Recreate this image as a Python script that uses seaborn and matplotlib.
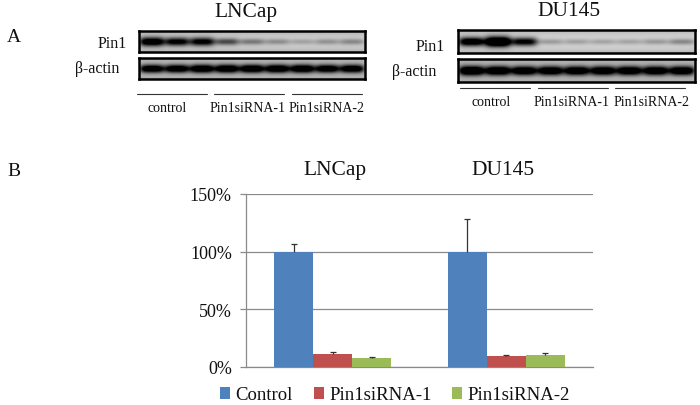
import numpy as np
import pandas as pd
import matplotlib
matplotlib.use("Agg")
import matplotlib.pyplot as plt
import seaborn as sns

# bar chart values
cells = ["LNCap", "DU145"]
groups = ["Control", "Pin1siRNA-1", "Pin1siRNA-2"]
control = [100, 100]
sirna1 = [11, 9.5]
sirna2 = [7.5, 10]
control_err = [6.5, 28]
sirna1_err = [2, 1]
sirna2_err = [1, 2]
colors = ["#4F81BD", "#C0504D", "#9BBB59"]
y_ticks = [0, 50, 100, 150]

# band darkness per lane on the blots
lncap_pin1 = [1.0, 0.85, 0.85, 0.5, 0.32, 0.24, 0.16, 0.22, 0.26]
lncap_actin = [0.95, 0.95, 1, 1, 1, 1, 1, 0.95, 0.95]
du_pin1 = [1, 1.3, 0.85, 0.2, 0.18, 0.17, 0.17, 0.21, 0.28]
du_actin = [1.1, 1.05, 1, 1, 1, 1, 1, 1, 1]

W, H = 700, 406
sns.set_style("white")
plt.rcParams['font.family'] = ['Liberation Serif', 'DejaVu Serif']

fig = plt.figure(figsize=(W / 100, H / 100), dpi=100)


def px_axes(x0, y0, x1, y1):
    return fig.add_axes([x0 / W, 1 - y1 / H, (x1 - x0) / W, (y1 - y0) / H])


def label(x, y, s, size, ha="center"):
    fig.text(x / W, 1 - y / H, s, fontsize=size, ha=ha, va="center", color="#111111")


def blot(box, bands, bg, thick):
    # render the lanes as soft dark smears on a grey membrane
    x0, y0, x1, y1 = box
    nx, ny = (x1 - x0) * 2, (y1 - y0) * 2
    xx, yy = np.meshgrid(np.linspace(0, 1, nx), np.linspace(0, 1, ny))
    dark = np.zeros((ny, nx))
    for i, b in enumerate(bands):
        cx = (i + 0.5) / len(bands)
        d = ((xx - cx) / 0.055) ** 4 + ((yy - 0.5) / (thick * (0.55 + 0.45 * b))) ** 2
        dark += b * np.exp(-d)
    edge = 0.12 * np.abs(2 * yy - 1) ** 3
    img = np.clip(bg - edge - dark * 1.05, 0, 1)
    ax = px_axes(x0, y0, x1, y1)
    sns.heatmap(img, cmap="gray", vmin=0, vmax=1, cbar=False, xticklabels=False,
                yticklabels=False, rasterized=True, ax=ax)
    for s in ax.spines.values():
        s.set_visible(True)
        s.set_color("black")
        s.set_linewidth(1.8)


blot((139, 32, 365, 53), lncap_pin1, 0.8, 0.22)
blot((139, 59, 365, 80), lncap_actin, 0.76, 0.21)
blot((458, 31, 695, 54), du_pin1, 0.82, 0.2)
blot((458, 60, 695, 83), du_actin, 0.76, 0.21)

# overlay for the lane brackets
over = fig.add_axes([0, 0, 1, 1])
over.set_xlim(0, W)
over.set_ylim(H, 0)
over.axis("off")
over.patch.set_alpha(0)
for y, spans in [(95, [(137, 207), (214, 284), (292, 362)]),
                 (89, [(460, 530), (538, 608), (615, 685)])]:
    for a, b in spans:
        over.plot([a, b], [y, y], color="#333333", lw=0.8)

label(246, 12, "LNCap", 15.5)
label(569, 12, "DU145", 15.5)
label(14, 38, "A", 14)
label(14, 172, "B", 14)
label(127, 44, "Pin1", 11.5, ha="right")
label(119, 69, "β-actin", 11.5, ha="right")
label(445, 47, "Pin1", 11.5, ha="right")
label(436, 72, "β-actin", 11.5, ha="right")
for x, y, s in [(167, 108, "control"), (248, 108, "Pin1siRNA-1"), (327, 108, "Pin1siRNA-2"),
                (491, 102, "control"), (572, 102, "Pin1siRNA-1"), (652, 102, "Pin1siRNA-2")]:
    label(x, y, s, 10)
label(335, 171, "LNCap", 15.5)
label(503, 171, "DU145", 15.5)

# bar panel
df = pd.DataFrame({
    "cell": cells * 3,
    "group": np.repeat(groups, 2),
    "value": control + sirna1 + sirna2,
})
ax = px_axes(245.7, 195, 593, 368)
sns.barplot(data=df, x="cell", y="value", hue="group", order=cells, hue_order=groups,
            palette=colors, width=0.674, gap=0, saturation=1, errorbar=None,
            linewidth=0, zorder=3, ax=ax)
for bars, errs in zip(ax.containers, [control_err, sirna1_err, sirna2_err]):
    xs = np.array([b.get_x() + b.get_width() / 2 for b in bars])
    ys = np.array([b.get_height() for b in bars])
    # upper whisker only
    ax.vlines(xs, ys, ys + np.array(errs), color="#333333", lw=0.9, zorder=4)
    ax.plot(xs, ys + np.array(errs), ls="none", marker="_", ms=5, mew=0.9, color="#333333", zorder=4)
ax.set_xlim(-0.5, 1.5)
ax.set_ylim(0, 150)
ax.set_yticks(y_ticks)
ax.set_yticklabels([f"{t}%" for t in y_ticks], fontsize=13, color="#111111")
ax.set_xlabel("")
ax.set_ylabel("")
ax.set_xticks([])
ax.yaxis.grid(True, color="#8a8a8a", lw=0.9, zorder=0)
ax.set_axisbelow(True)
ax.tick_params(axis="y", left=True, length=4, width=0.9, color="#8a8a8a", pad=6)
sns.despine(ax=ax, top=True, right=True)
for s in ["left", "bottom"]:
    ax.spines[s].set_color("#8a8a8a")
    ax.spines[s].set_linewidth(0.9)

ax.legend(loc="center", bbox_to_anchor=((395 - 245.7) / 347.3, (368 - 396) / 173), ncol=3,
          frameon=False, title=None, prop={"size": 13.5}, handlelength=0.55, handleheight=0.55,
          handletextpad=0.28, columnspacing=1.1, borderpad=0, labelcolor="#111111")

fig.savefig("out.png", dpi=100)
